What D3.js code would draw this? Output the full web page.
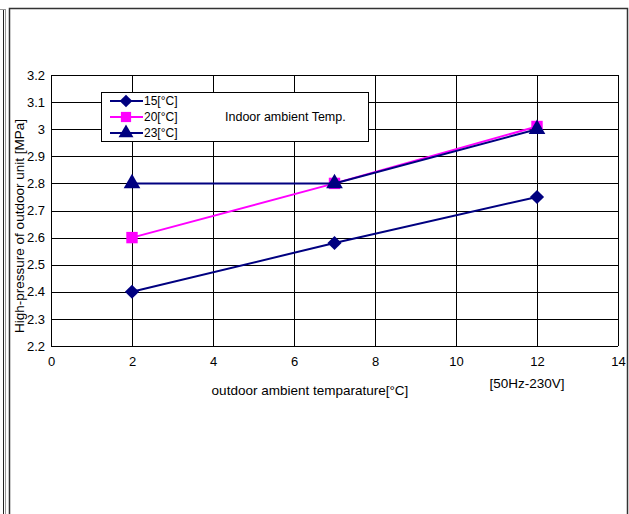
<!DOCTYPE html>
<html lang="en">
<head>
    <meta charset="UTF-8">
    <title>High-pressure of outdoor unit</title>
    <style>
        body { margin: 0; background: #fff; font-family: Arial, "Liberation Sans", sans-serif; }
        text { font-family: Arial, "Liberation Sans", sans-serif; fill: #000; }
        .grid line { stroke: #000; stroke-width: 1; shape-rendering: crispEdges; }
        .axis path, .axis line { display: none; }
        .axis text { font-size: 13px; }
    </style>
</head>
<body>
<svg id="chart" width="629" height="514"></svg>
<script src="https://d3js.org/d3.v7.min.js"></script>
<script>
    // data
    var xTicks = [0, 2, 4, 6, 8, 10, 12, 14];
    var yTicks = [2.2, 2.3, 2.4, 2.5, 2.6, 2.7, 2.8, 2.9, 3, 3.1, 3.2];
    var outdoorTemp = [2, 7, 12];
    var series15 = [2.4, 2.58, 2.75];
    var series20 = [2.6, 2.8, 3.01];
    var series23 = [2.8, 2.8, 3.0];
    var seriesNames = ["15[°C]", "20[°C]", "23[°C]"];

    var svg = d3.select("#chart");

    // page frame
    var frame = svg.append("g");
    frame.append("line").attr("x1", 3.5).attr("x2", 3.5).attr("y1", 9).attr("y2", 514)
        .attr("stroke", "#222").attr("stroke-width", 1);
    frame.append("line").attr("x1", 5.5).attr("x2", 5.5).attr("y1", 9).attr("y2", 514)
        .attr("stroke", "#999").attr("stroke-width", 1);
    frame.append("line").attr("x1", 0).attr("x2", 5).attr("y1", 9.5).attr("y2", 9.5)
        .attr("stroke", "#999").attr("stroke-width", 1);
    frame.append("path")
        .attr("d", "M9.5,514 V8.5 H627.5 V514")
        .attr("fill", "none").attr("stroke", "#333").attr("stroke-width", 1.5);

    var plotLeft = 51, plotRight = 618, plotTop = 75, plotBottom = 346;

    var x = d3.scaleLinear().domain([0, 14]).range([plotLeft, plotRight]);
    var y = d3.scaleLinear().domain([2.2, 3.2]).range([plotBottom, plotTop]);

    // grid
    var grid = svg.append("g").attr("class", "grid");
    grid.selectAll(".h").data(yTicks).enter().append("line")
        .attr("x1", plotLeft).attr("x2", plotRight)
        .attr("y1", function(d) { return Math.round(y(d)) + 0.5; })
        .attr("y2", function(d) { return Math.round(y(d)) + 0.5; });
    grid.selectAll(".v").data(xTicks).enter().append("line")
        .attr("y1", plotTop).attr("y2", plotBottom)
        .attr("x1", function(d) { return Math.round(x(d)) + 0.5; })
        .attr("x2", function(d) { return Math.round(x(d)) + 0.5; });

    // axes (labels only)
    svg.append("g").attr("class", "axis")
        .attr("transform", "translate(0," + (plotBottom + 8) + ")")
        .call(d3.axisBottom(x).tickValues(xTicks).tickSize(0).tickFormat(d3.format("d")));
    svg.append("g").attr("class", "axis")
        .attr("transform", "translate(" + (plotLeft - 3) + ",0)")
        .call(d3.axisLeft(y).tickValues(yTicks).tickSize(0).tickFormat(function(d) { return String(+d.toFixed(1)); }));

    svg.append("text").attr("x", 310).attr("y", 395).attr("text-anchor", "middle")
        .attr("font-size", 13.5).text("outdoor ambient temparature[°C]");
    svg.append("text").attr("x", 527).attr("y", 388).attr("text-anchor", "middle")
        .attr("font-size", 13.5).text("[50Hz-230V]");
    svg.append("text").attr("transform", "translate(24,226) rotate(-90)")
        .attr("text-anchor", "middle").attr("font-size", 13.5)
        .text("High-pressure of outdoor unit [MPa]");

    var line = d3.line()
        .x(function(d, i) { return x(outdoorTemp[i]); })
        .y(function(d) { return y(d); });

    var allSeries = [
        { values: series15, color: "#000080", shape: d3.symbolSquare, size: 100, rotate: 45 },
        { values: series20, color: "#FF00FF", shape: d3.symbolSquare, size: 130, rotate: 0 },
        { values: series23, color: "#000080", shape: d3.symbolTriangle, size: 120, rotate: 0 }
    ];

    allSeries.forEach(function(s) {
        svg.append("path").datum(s.values)
            .attr("d", line).attr("fill", "none")
            .attr("stroke", s.color).attr("stroke-width", 2);
        svg.selectAll(null).data(s.values).enter().append("path")
            .attr("d", d3.symbol().type(s.shape).size(s.size))
            .attr("transform", function(d, i) {
                return "translate(" + x(outdoorTemp[i]) + "," + y(d) + ") rotate(" + s.rotate + ")";
            })
            .attr("fill", s.color);
    });

    // legend
    var legend = svg.append("g");
    legend.append("rect").attr("x", 101.5).attr("y", 92.5).attr("width", 267).attr("height", 49)
        .attr("fill", "#fff").attr("stroke", "#000").attr("stroke-width", 1);
    var rowsY = [101, 117, 133];
    allSeries.forEach(function(s, i) {
        legend.append("line").attr("x1", 110).attr("x2", 143)
            .attr("y1", rowsY[i]).attr("y2", rowsY[i])
            .attr("stroke", s.color).attr("stroke-width", 2);
        legend.append("path")
            .attr("d", d3.symbol().type(s.shape).size(s.size * 0.8))
            .attr("transform", "translate(126," + rowsY[i] + ") rotate(" + s.rotate + ")")
            .attr("fill", s.color);
        legend.append("text").attr("x", 144).attr("y", rowsY[i] + 4)
            .attr("font-size", 12).text(seriesNames[i]);
    });
    legend.append("text").attr("x", 225).attr("y", 121)
        .attr("font-size", 12.5).text("Indoor ambient Temp.");
</script>
</body>
</html>
